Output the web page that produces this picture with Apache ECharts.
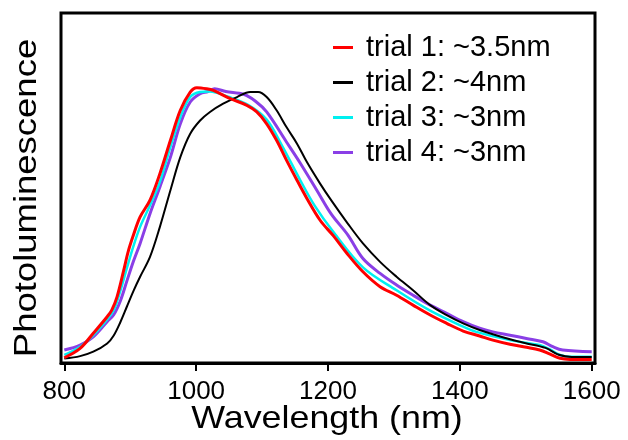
<!DOCTYPE html>
<html>
<head>
<meta charset="utf-8">
<script src="https://cdn.jsdelivr.net/npm/echarts@6/dist/echarts.min.js"></script>
<style>
  html, body { margin: 0; padding: 0; background: #fff; }
  #chart { width: 628px; height: 440px; }
</style>
</head>
<body>
<div id="chart"></div>
<script>
  // PL spectra (intensity normalised, red peak ~1)
  var names = ['trial 1: ~3.5nm', 'trial 2: ~4nm', 'trial 3: ~3nm', 'trial 4: ~3nm']
  var colors = ['#ff0000', '#000000', '#00f0f0', '#8a3fe6']
  var xTicks = [800, 1000, 1200, 1400, 1600]

  var wl1 = [800, 824, 844, 865, 872, 880, 890, 897, 905, 915, 930, 945, 961, 976, 991, 1001, 1016, 1026, 1052, 1077, 1092, 1107, 1122, 1137, 1153, 1168, 1188, 1208, 1228, 1253, 1279, 1304, 1329, 1355, 1380, 1405, 1430, 1450, 1476, 1501, 1521, 1536, 1552, 1567, 1600]
  var pl1 = [0.019, 0.053, 0.108, 0.168, 0.192, 0.240, 0.335, 0.405, 0.465, 0.530, 0.591, 0.687, 0.808, 0.917, 0.983, 0.999, 0.995, 0.989, 0.959, 0.935, 0.911, 0.868, 0.808, 0.736, 0.663, 0.597, 0.518, 0.462, 0.400, 0.331, 0.277, 0.246, 0.210, 0.174, 0.144, 0.116, 0.098, 0.083, 0.068, 0.057, 0.047, 0.033, 0.017, 0.013, 0.013]

  var wl2 = [800, 824, 844, 865, 875, 885, 895, 905, 915, 930, 945, 961, 976, 991, 1006, 1021, 1041, 1062, 1082, 1094, 1107, 1122, 1137, 1153, 1168, 1188, 1205, 1230, 1253, 1279, 1304, 1329, 1355, 1380, 1405, 1430, 1476, 1500, 1530, 1550, 1570, 1600]
  var pl2 = [0.016, 0.025, 0.041, 0.071, 0.100, 0.148, 0.205, 0.262, 0.313, 0.385, 0.494, 0.627, 0.747, 0.832, 0.880, 0.911, 0.941, 0.965, 0.983, 0.983, 0.965, 0.917, 0.856, 0.796, 0.729, 0.651, 0.590, 0.506, 0.434, 0.367, 0.313, 0.264, 0.210, 0.174, 0.144, 0.120, 0.086, 0.072, 0.055, 0.030, 0.022, 0.022]

  var wl3 = [800, 824, 844, 865, 875, 885, 895, 905, 915, 930, 945, 961, 976, 991, 1006, 1020, 1050, 1080, 1107, 1130, 1158, 1180, 1208, 1253, 1304, 1355, 1405, 1425, 1476, 1521, 1536, 1552, 1567, 1600]
  var pl3 = [0.029, 0.059, 0.101, 0.158, 0.192, 0.262, 0.345, 0.425, 0.494, 0.572, 0.657, 0.784, 0.892, 0.965, 0.983, 0.985, 0.965, 0.935, 0.883, 0.790, 0.663, 0.570, 0.476, 0.347, 0.264, 0.190, 0.132, 0.113, 0.083, 0.065, 0.050, 0.029, 0.023, 0.023]

  var wl4 = [800, 824, 844, 865, 875, 885, 895, 905, 915, 930, 945, 961, 976, 991, 1006, 1018, 1028, 1045, 1072, 1090, 1107, 1137, 1158, 1183, 1205, 1230, 1253, 1279, 1304, 1329, 1355, 1380, 1405, 1430, 1450, 1476, 1501, 1526, 1541, 1556, 1600]
  var pl4 = [0.047, 0.065, 0.095, 0.150, 0.175, 0.225, 0.298, 0.370, 0.434, 0.542, 0.639, 0.747, 0.868, 0.947, 0.977, 0.985, 0.995, 0.985, 0.975, 0.950, 0.911, 0.802, 0.725, 0.627, 0.540, 0.465, 0.379, 0.325, 0.283, 0.246, 0.210, 0.180, 0.150, 0.126, 0.113, 0.101, 0.089, 0.077, 0.059, 0.047, 0.041]

  var wls = [wl1, wl2, wl3, wl4]
  var pls = [pl1, pl2, pl3, pl4]
  var widths = [3, 2, 2.5, 3]

  function pairs(xs, ys) {
    var out = []
    xs.forEach(function (x, i) { out.push([x, ys[i]]) })
    return out
  }

  // draw purple first, red last (red sits on top in the figure)
  var series = []
  for (var k = 3; k >= 0; k--) {
    series.push({
      name: names[k],
      type: 'line',
      data: pairs(wls[k], pls[k]),
      symbol: 'none',
      smooth: 0.35,
      lineStyle: { color: colors[k], width: widths[k] },
      itemStyle: { color: colors[k] }
    })
  }

  var myChart = echarts.init(document.getElementById('chart'))
  myChart.setOption({
    animation: false,
    grid: {
      left: 61,
      right: 33,
      top: 13,
      bottom: 77,
      show: true,
      borderColor: '#000',
      borderWidth: 3
    },
    legend: {
      data: names,
      orient: 'vertical',
      left: 333,
      top: 33,
      padding: 0,
      itemWidth: 20,
      itemHeight: 3,
      itemGap: 6,
      icon: 'rect',
      textStyle: {
        fontFamily: 'Liberation Sans, Arial, sans-serif',
        fontSize: 29,
        color: '#000',
        padding: [0, 0, 0, 8]
      }
    },
    xAxis: {
      type: 'value',
      min: 795,
      max: 1605,
      axisLine: { show: true, lineStyle: { color: '#000', width: 3 } },
      axisTick: {
        show: true,
        customValues: xTicks,
        length: 8,
        lineStyle: { color: '#000', width: 2 }
      },
      axisLabel: {
        customValues: xTicks,
        formatter: function (v) { return String(v) },
        margin: 16,
        fontFamily: 'Liberation Sans, Arial, sans-serif',
        fontSize: 26,
        color: '#000'
      },
      splitLine: { show: false }
    },
    yAxis: {
      type: 'value',
      min: 0,
      max: 1.27,
      axisLine: { show: false },
      axisTick: { show: false },
      axisLabel: { show: false },
      splitLine: { show: false }
    },
    graphic: [
      {
        type: 'text',
        x: 327,
        y: 419,
        scaleX: 1.12,
        style: {
          text: 'Wavelength (nm)',
          fontFamily: 'Liberation Sans, Arial, sans-serif',
          fontSize: 32,
          fill: '#000',
          align: 'center',
          verticalAlign: 'middle'
        }
      },
      {
        type: 'text',
        x: 27,
        y: 198,
        rotation: Math.PI / 2,
        scaleX: 1.14,
        style: {
          text: 'Photoluminescence',
          fontFamily: 'Liberation Sans, Arial, sans-serif',
          fontSize: 32,
          fill: '#000',
          align: 'center',
          verticalAlign: 'middle'
        }
      }
    ],
    series: series
  })
</script>
</body>
</html>
